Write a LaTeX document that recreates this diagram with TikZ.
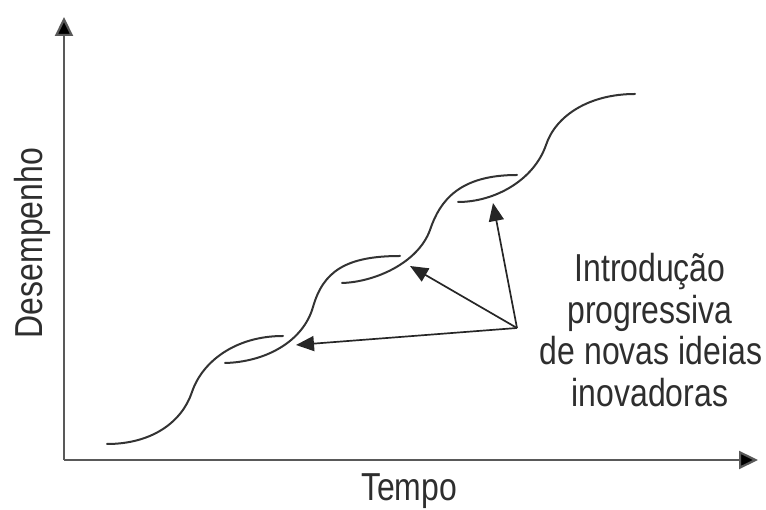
\documentclass[tikz,border=0pt]{standalone}
\usepackage{fontspec}
\setmainfont{Liberation Sans}[FakeStretch=0.82]
\usetikzlibrary{arrows.meta}
\definecolor{axisgray}{gray}{0.35}
\definecolor{curvegray}{gray}{0.2}
\definecolor{textgray}{gray}{0.18}
\tikzset{
  axisline/.style={draw=axisgray, line width=2.2pt, -{Triangle[length=19pt,width=18pt,fill=black]}},
  scurve/.style={draw=curvegray, line width=2pt, line cap=round},
  pointer/.style={draw=black!85, line width=1.7pt, -{Triangle[length=18pt,width=15pt]}},
  label/.style={text=textgray, inner sep=0pt, font=\fontsize{39}{41.5}\selectfont},
}
\begin{document}
\begin{tikzpicture}[x=1pt,y=1pt]
  \useasboundingbox (0,0) rectangle (766,510);

  % axes
  \coordinate (origin) at (64,50);
  \coordinate (ytip) at (64,493);
  \coordinate (xtip) at (758,50);
  \draw[axisline] (origin) -- (ytip);
  \draw[axisline] (origin) -- (xtip);

  % axis labels
  \node[label, rotate=90, anchor=base] (ylabel) at (42,267) {Desempenho};
  \node[label, anchor=base] (xlabel) at (409,9) {Tempo};

  % successive S-curves
  \draw[scurve] (107,66) .. controls (152,66) and (182,88) .. (192,118)
                          .. controls (202,148) and (235,174) .. (283,174);
  \draw[scurve] (225,147) .. controls (265,148) and (303,168) .. (313,203)
                          .. controls (323,238) and (345,254) .. (400,254);
  \draw[scurve] (342,227) .. controls (375,228) and (418,247) .. (430,280)
                          .. controls (440,310) and (460,335) .. (517,335);
  \draw[scurve] (458,308) .. controls (495,308) and (534,330) .. (546,365)
                          .. controls (556,395) and (590,416) .. (635,416);

  % pointers to the new curves
  \coordinate (src) at (517,182);
  \coordinate (jump1) at (296,165);
  \coordinate (jump2) at (410,244);
  \coordinate (jump3) at (493,307);
  \draw[pointer] (src) -- (jump1);
  \draw[pointer] (src) -- (jump2);
  \draw[pointer] (src) -- (jump3);

  % caption beside the pointers
  \node[label, anchor=base] (note1) at (650,228.3) {Introdução};
  \node[label, anchor=base] (note2) at (650,186.6) {progressiva};
  \node[label, anchor=base] (note3) at (651,145) {de novas ideias};
  \node[label, anchor=base] (note4) at (650,103.3) {inovadoras};
\end{tikzpicture}
\end{document}
